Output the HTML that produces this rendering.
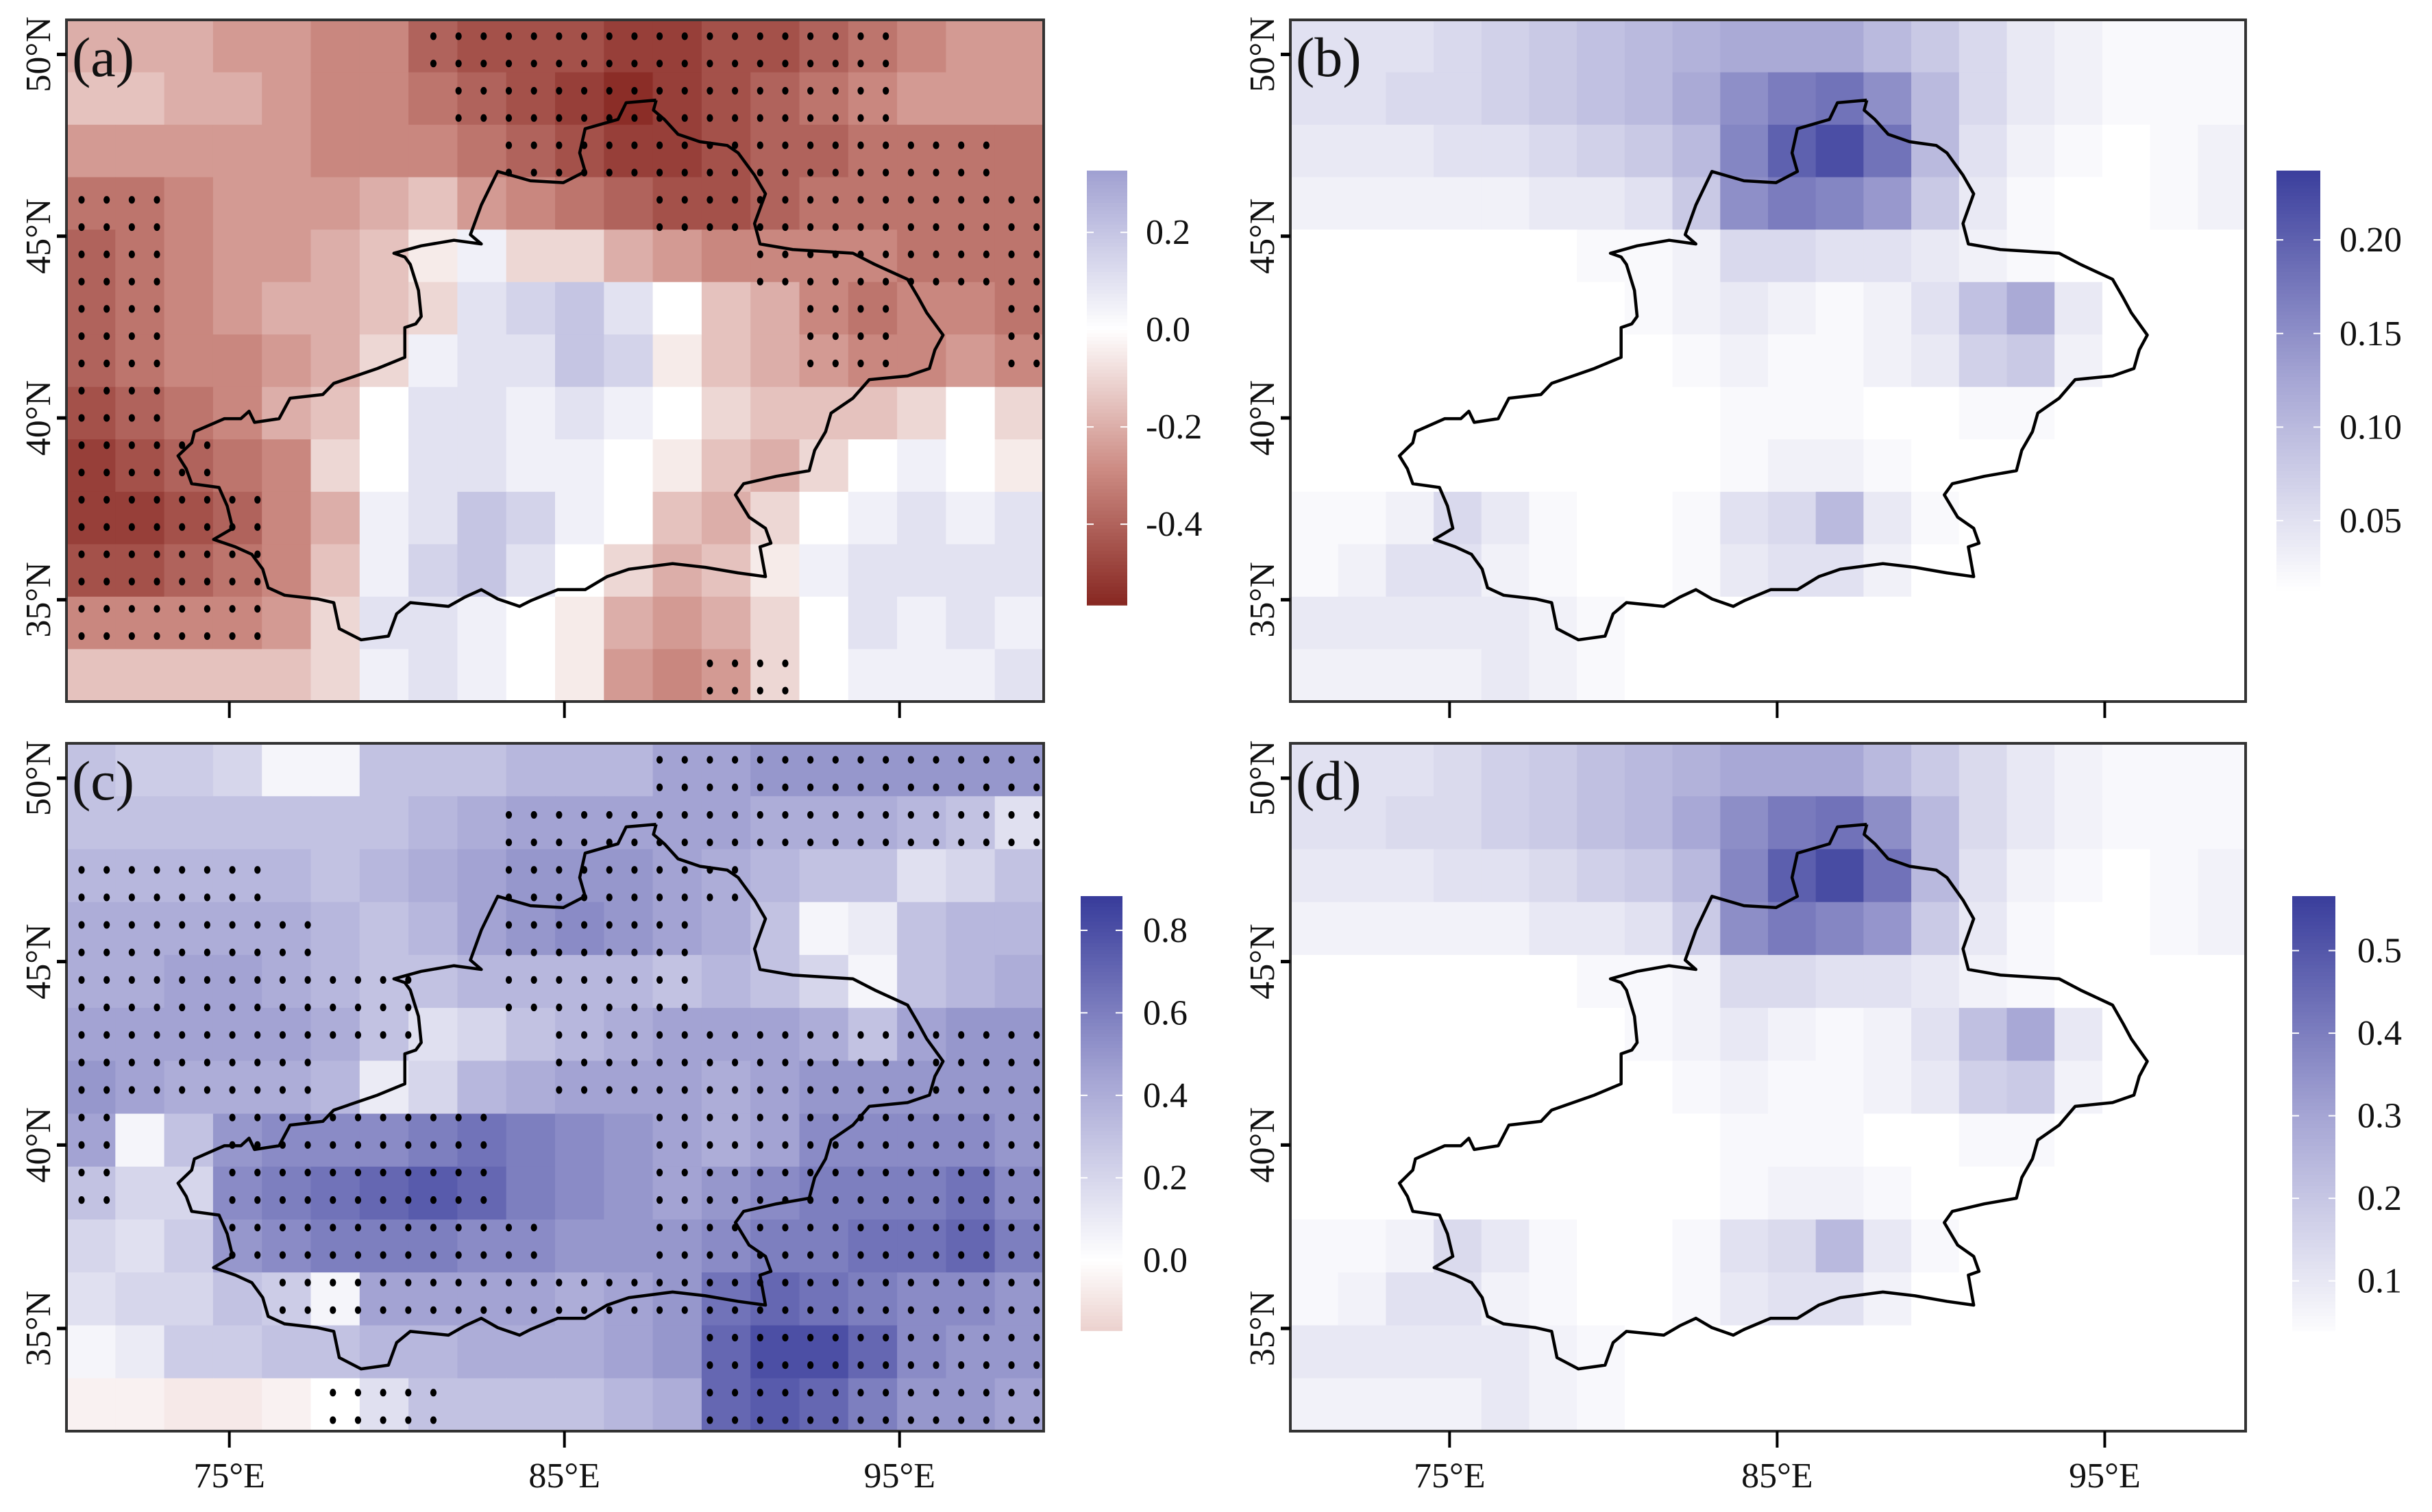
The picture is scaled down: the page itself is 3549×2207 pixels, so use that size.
<!DOCTYPE html>
<html><head><meta charset="utf-8">
<style>
html,body{margin:0;padding:0;background:#fff;}
svg{display:block;font-family:"Liberation Serif",serif;}
</style></head>
<body>
<svg id="fig" width="3549" height="2207" viewBox="0 0 3549 2207" xmlns="http://www.w3.org/2000/svg"></svg>
<script>
// ---------- data ----------
const LON0 = 70.14, LON1 = 99.3, LAT0 = 32.2, LAT1 = 50.95;
const lonTicks = [75, 85, 95];
const lonTickLabels = ["75°E", "85°E", "95°E"];
const latTicks = [35, 40, 45, 50];
const latTickLabels = ["35°N", "40°N", "45°N", "50°N"];

const gridA = [
[-0.2,-0.2,-0.2,-0.25,-0.25,-0.3,-0.3,-0.4,-0.45,-0.45,-0.45,-0.5,-0.5,-0.45,-0.45,-0.4,-0.35,-0.3,-0.25,-0.25],
[-0.15,-0.15,-0.2,-0.2,-0.25,-0.3,-0.3,-0.35,-0.4,-0.45,-0.5,-0.55,-0.5,-0.45,-0.4,-0.35,-0.3,-0.25,-0.25,-0.25],
[-0.25,-0.25,-0.25,-0.25,-0.25,-0.3,-0.3,-0.3,-0.35,-0.4,-0.45,-0.5,-0.5,-0.45,-0.4,-0.4,-0.35,-0.35,-0.35,-0.35],
[-0.35,-0.35,-0.3,-0.25,-0.25,-0.25,-0.2,-0.15,-0.25,-0.3,-0.35,-0.4,-0.45,-0.45,-0.4,-0.35,-0.35,-0.35,-0.35,-0.35],
[-0.4,-0.35,-0.3,-0.25,-0.25,-0.2,-0.15,-0.05,0.05,-0.1,-0.1,-0.2,-0.25,-0.3,-0.3,-0.3,-0.3,-0.35,-0.35,-0.35],
[-0.4,-0.35,-0.3,-0.25,-0.2,-0.2,-0.15,-0.1,0.1,0.15,0.2,0.1,0.0,-0.15,-0.2,-0.3,-0.35,-0.3,-0.3,-0.35],
[-0.4,-0.35,-0.3,-0.3,-0.25,-0.2,-0.1,0.05,0.1,0.1,0.2,0.15,-0.05,-0.15,-0.2,-0.25,-0.3,-0.3,-0.25,-0.3],
[-0.45,-0.4,-0.35,-0.3,-0.2,-0.15,0.0,0.1,0.1,0.05,0.1,0.05,0.0,-0.1,-0.15,-0.15,-0.15,-0.1,0.0,-0.1],
[-0.5,-0.45,-0.4,-0.35,-0.3,-0.1,0.0,0.1,0.1,0.05,0.05,0.0,-0.05,-0.15,-0.2,-0.1,0.0,0.05,0.0,-0.05],
[-0.5,-0.5,-0.45,-0.4,-0.3,-0.2,0.05,0.1,0.2,0.15,0.05,0.0,-0.15,-0.2,-0.1,0.0,0.05,0.1,0.05,0.1],
[-0.45,-0.45,-0.4,-0.35,-0.3,-0.15,0.05,0.15,0.2,0.1,0.0,-0.1,-0.2,-0.15,-0.05,0.05,0.1,0.1,0.1,0.1],
[-0.3,-0.3,-0.3,-0.3,-0.25,-0.1,0.1,0.1,0.05,0.0,-0.05,-0.2,-0.25,-0.2,-0.1,0.0,0.1,0.05,0.1,0.05],
[-0.15,-0.15,-0.15,-0.15,-0.15,-0.1,0.05,0.1,0.05,0.0,-0.05,-0.25,-0.3,-0.25,-0.1,0.0,0.05,0.05,0.05,0.1]
];
const dotsA = [
"00000001111111111000","00000000111111111000","00000000011111111110",
"11000000000011111111","11000000000000111111","11000000000000011001",
"11000000000000011001","11000000000000000000","11100000000000000000",
"11110000000000000000","11110000000000000000","11110000000000000000",
"00000000000001100000"];

const gridB = [
[0.05,0.05,0.05,0.06,0.07,0.08,0.09,0.1,0.11,0.12,0.12,0.12,0.1,0.08,0.06,0.04,0.03,0.02,0.02,0.02],
[0.05,0.05,0.06,0.06,0.07,0.08,0.09,0.1,0.12,0.15,0.17,0.18,0.15,0.1,0.06,0.04,0.03,0.02,0.02,0.02],
[0.04,0.04,0.04,0.05,0.05,0.06,0.07,0.08,0.1,0.16,0.2,0.22,0.18,0.1,0.05,0.03,0.02,0.01,0.02,0.03],
[0.03,0.03,0.03,0.03,0.03,0.04,0.04,0.05,0.08,0.15,0.17,0.16,0.14,0.08,0.04,0.02,0.01,0.01,0.02,0.03],
[0.01,0.01,0.01,0.01,0.01,0.01,0.02,0.02,0.03,0.06,0.06,0.05,0.05,0.04,0.03,0.02,0.01,0.01,0.01,0.01],
[0.01,0.01,0.01,0.01,0.01,0.01,0.01,0.02,0.03,0.04,0.03,0.02,0.03,0.05,0.09,0.12,0.04,0.01,0.01,0.01],
[0.01,0.01,0.01,0.01,0.01,0.01,0.01,0.01,0.02,0.03,0.02,0.02,0.03,0.04,0.07,0.08,0.03,0.01,0.01,0.01],
[0.01,0.01,0.01,0.01,0.01,0.01,0.0,0.0,0.01,0.02,0.02,0.02,0.01,0.01,0.02,0.02,0.01,0.01,0.01,0.01],
[0.01,0.01,0.01,0.01,0.01,0.01,0.0,0.0,0.01,0.02,0.03,0.03,0.02,0.01,0.01,0.01,0.01,0.01,0.01,0.01],
[0.02,0.02,0.03,0.06,0.04,0.02,0.01,0.01,0.02,0.05,0.06,0.1,0.04,0.02,0.01,0.01,0.01,0.01,0.01,0.01],
[0.02,0.03,0.05,0.05,0.03,0.02,0.01,0.01,0.02,0.04,0.05,0.05,0.03,0.01,0.01,0.01,0.01,0.01,0.01,0.01],
[0.04,0.04,0.04,0.04,0.04,0.03,0.02,0.01,0.01,0.01,0.01,0.01,0.01,0.01,0.01,0.01,0.01,0.01,0.01,0.01],
[0.03,0.03,0.03,0.03,0.04,0.03,0.02,0.01,0.01,0.01,0.01,0.01,0.01,0.01,0.01,0.01,0.01,0.01,0.01,0.01]
];

const gridC = [
[0.3,0.25,0.25,0.2,0.05,0.05,0.3,0.3,0.3,0.35,0.35,0.35,0.45,0.45,0.5,0.5,0.5,0.5,0.5,0.5],
[0.3,0.3,0.3,0.3,0.3,0.3,0.3,0.35,0.4,0.45,0.45,0.45,0.45,0.45,0.4,0.4,0.4,0.35,0.3,0.15],
[0.35,0.35,0.35,0.35,0.35,0.3,0.35,0.4,0.45,0.5,0.5,0.5,0.45,0.4,0.35,0.3,0.3,0.15,0.2,0.3],
[0.4,0.4,0.4,0.4,0.4,0.35,0.3,0.35,0.45,0.5,0.55,0.5,0.45,0.4,0.3,0.05,0.1,0.3,0.35,0.35],
[0.4,0.4,0.45,0.45,0.4,0.35,0.3,0.3,0.35,0.35,0.35,0.35,0.3,0.35,0.3,0.2,0.05,0.3,0.35,0.4],
[0.45,0.45,0.45,0.45,0.45,0.4,0.3,0.15,0.2,0.3,0.35,0.4,0.45,0.45,0.45,0.4,0.3,0.45,0.5,0.5],
[0.5,0.45,0.4,0.4,0.4,0.35,0.1,0.2,0.35,0.4,0.45,0.45,0.45,0.4,0.45,0.5,0.5,0.5,0.5,0.5],
[0.45,0.05,0.3,0.5,0.55,0.55,0.55,0.6,0.65,0.6,0.55,0.5,0.45,0.4,0.45,0.55,0.55,0.55,0.55,0.5],
[0.3,0.2,0.2,0.55,0.6,0.65,0.7,0.75,0.7,0.6,0.55,0.5,0.45,0.5,0.55,0.6,0.6,0.6,0.65,0.55],
[0.2,0.15,0.25,0.5,0.55,0.6,0.6,0.6,0.55,0.55,0.5,0.5,0.5,0.55,0.6,0.6,0.65,0.65,0.7,0.6],
[0.15,0.2,0.2,0.3,0.25,0.05,0.45,0.45,0.45,0.45,0.4,0.45,0.5,0.65,0.7,0.65,0.6,0.55,0.55,0.5],
[0.05,0.1,0.25,0.25,0.3,0.3,0.35,0.35,0.4,0.4,0.4,0.45,0.5,0.7,0.8,0.8,0.7,0.55,0.5,0.5],
[-0.05,-0.05,-0.08,-0.08,-0.05,0.0,0.15,0.3,0.3,0.3,0.3,0.35,0.4,0.7,0.75,0.7,0.6,0.5,0.5,0.45]
];
const dotsC = [
"00000000000011111111","00000000011111111111","11110000011111000000",
"11111000011110000000","11111110011110000000","11111110001111111111",
"11111000001111111111","10011111100011111111","10011111100011111111",
"00011111110011111111","00001111111111111111","00000000000001111111",
"00000111000001111111"];

const gridD = [
[0.12,0.12,0.12,0.14,0.17,0.19,0.22,0.24,0.26,0.29,0.29,0.29,0.24,0.19,0.14,0.1,0.07,0.05,0.05,0.05],
[0.12,0.12,0.14,0.14,0.17,0.19,0.22,0.24,0.29,0.36,0.41,0.43,0.36,0.24,0.14,0.1,0.07,0.05,0.05,0.05],
[0.1,0.1,0.1,0.12,0.12,0.14,0.17,0.19,0.24,0.38,0.48,0.53,0.43,0.24,0.12,0.07,0.05,0.02,0.05,0.07],
[0.07,0.07,0.07,0.07,0.07,0.1,0.1,0.12,0.19,0.36,0.41,0.38,0.34,0.19,0.1,0.05,0.02,0.02,0.05,0.07],
[0.02,0.02,0.02,0.02,0.02,0.02,0.05,0.05,0.07,0.14,0.14,0.12,0.12,0.1,0.07,0.05,0.02,0.02,0.02,0.02],
[0.02,0.02,0.02,0.02,0.02,0.02,0.02,0.05,0.07,0.1,0.07,0.05,0.07,0.12,0.22,0.29,0.1,0.02,0.02,0.02],
[0.02,0.02,0.02,0.02,0.02,0.02,0.02,0.02,0.05,0.07,0.05,0.05,0.07,0.1,0.17,0.19,0.07,0.02,0.02,0.02],
[0.02,0.02,0.02,0.02,0.02,0.02,0.0,0.0,0.02,0.05,0.05,0.05,0.02,0.02,0.05,0.05,0.02,0.02,0.02,0.02],
[0.02,0.02,0.02,0.02,0.02,0.02,0.0,0.0,0.02,0.05,0.07,0.07,0.05,0.02,0.02,0.02,0.02,0.02,0.02,0.02],
[0.05,0.05,0.07,0.14,0.1,0.05,0.02,0.02,0.05,0.12,0.14,0.24,0.1,0.05,0.02,0.02,0.02,0.02,0.02,0.02],
[0.05,0.07,0.12,0.12,0.07,0.05,0.02,0.02,0.05,0.1,0.12,0.12,0.07,0.02,0.02,0.02,0.02,0.02,0.02,0.02],
[0.1,0.1,0.1,0.1,0.1,0.07,0.05,0.02,0.02,0.02,0.02,0.02,0.02,0.02,0.02,0.02,0.02,0.02,0.02,0.02],
[0.07,0.07,0.07,0.07,0.1,0.07,0.05,0.02,0.02,0.02,0.02,0.02,0.02,0.02,0.02,0.02,0.02,0.02,0.02,0.02]
];

const cbTicksA = [0.2, 0.0, -0.2, -0.4], cbLabelsA = ["0.2","0.0","-0.2","-0.4"];
const cbTicksB = [0.20, 0.15, 0.10, 0.05], cbLabelsB = ["0.20","0.15","0.10","0.05"];
const cbTicksC = [0.8, 0.6, 0.4, 0.2, 0.0], cbLabelsC = ["0.8","0.6","0.4","0.2","0.0"];
const cbTicksD = [0.5, 0.4, 0.3, 0.2, 0.1], cbLabelsD = ["0.5","0.4","0.3","0.2","0.1"];

// Xinjiang outline (panel-a zoom pixel coords)
const outlineRaw = [[950,48],[945,75],[965,100],[990,140],[1030,160],[1080,170],[1100,190],[1130,250],[1150,300],[1130,380],[1140,435],[1200,450],[1310,460],[1350,490],[1410,530],[1430,580],[1445,620],[1475,680],[1460,720],[1450,770],[1410,790],[1340,800],[1310,850],[1270,890],[1260,940],[1240,990],[1230,1045],[1170,1060],[1110,1080],[1095,1110],[1120,1170],[1150,1200],[1160,1240],[1140,1250],[1150,1330],[1100,1320],[1040,1305],[980,1295],[900,1310],[860,1330],[820,1365],[770,1365],[720,1395],[700,1410],[660,1390],[630,1365],[600,1385],[570,1410],[500,1400],[475,1430],[460,1490],[410,1500],[370,1470],[360,1400],[330,1390],[270,1380],[240,1360],[230,1310],[210,1270],[180,1250],[140,1230],[175,1200],[165,1140],[150,1090],[100,1080],[90,1040],[75,1005],[100,970],[105,940],[160,905],[190,905],[205,885],[215,915],[260,905],[280,850],[340,840],[360,810],[440,770],[490,740],[490,660],[510,650],[520,630],[515,560],[500,490],[490,470],[470,460],[520,440],[580,425],[630,435],[610,410],[630,330],[660,240],[720,265],[780,270],[820,240],[810,190],[820,125],[880,100],[895,55],[950,48]];
const outline = outlineRaw.map(p => {
  const fx = 200 + p[0]/1.254, fy = 120 + p[1]/1.845;
  return [LON0 + (fx-97)/(1426/(LON1-LON0)), LAT1 - (fy-29)/(994/(LAT1-LAT0))];
});

// ---------- colormaps ----------
function lerp(a,b,t){return [0,1,2].map(i=>Math.round(a[i]+(b[i]-a[i])*t));}
const W=[255,255,255], BM=[165,165,212], BD=[56,60,155], RM=[205,140,132], RD=[134,38,32];
function blue(t){t=Math.max(0,Math.min(1,t));return t<0.5?lerp(W,BM,t/0.5):lerp(BM,BD,(t-0.5)/0.5);}
function red(t){t=Math.max(0,Math.min(1,t));return t<0.5?lerp(W,RM,t/0.5):lerp(RM,RD,(t-0.5)/0.5);}
function rgb(c){return `rgb(${c[0]},${c[1]},${c[2]})`;}
function divMap(pos,neg){return v=> v>=0? rgb(blue(v/pos)) : rgb(red(-v/neg));}
function seqMap(lo,hi){return v=> rgb(blue((v-lo)/(hi-lo)));}

const svg=document.getElementById('fig');
const NS='http://www.w3.org/2000/svg';
function el(tag,attrs,parent){const e=document.createElementNS(NS,tag);for(const k in attrs)e.setAttribute(k,attrs[k]);(parent||svg).appendChild(e);return e;}

function panel(p){
  const g=el('g',{});
  
  
  const xs=lon=>p.x0+(lon-LON0)/(LON1-LON0)*(p.x1-p.x0);
  const ys=lat=>p.y0+(LAT1-lat)/(LAT1-LAT0)*(p.y1-p.y0);
  const rows=p.grid.length, cols=p.grid[0].length;
  const dlon=(LON1-LON0)/cols, dlat=(LAT1-LAT0)/rows;
  const hg=el('g',{},g);
  
  
  for(let r=0;r<rows;r++)for(let c=0;c<cols;c++){
    const xa=xs(LON0+c*dlon), xb=xs(LON0+(c+1)*dlon), ya=ys(LAT1-r*dlat), yb=ys(LAT1-(r+1)*dlat);
    const cell=el('rect',{x:xa,y:ya,width:xb-xa+0.8,height:yb-ya+0.8,fill:p.cmap(p.grid[r][c])},hg);
    
    
  }
  if(p.dots){
    const dg=el('g',{fill:'#000'},g);
    
    
    for(let lon=LON0+0.45;lon<LON1;lon+=0.75)for(let lat=LAT1-0.45;lat>LAT0;lat-=0.75){
      const c=Math.floor((lon-LON0)/dlon), r=Math.floor((LAT1-lat)/dlat);
      if(p.dots[r] && p.dots[r][c]==='1'){
        const d=el('ellipse',{cx:xs(lon),cy:ys(lat),rx:4.6,ry:5.6},dg);
        
        
      }
    }
  }
  const ol=el('polyline',{points:outline.map(q=>xs(q[0])+','+ys(q[1])).join(' '),fill:'none',stroke:'#000','stroke-width':4.5,'stroke-linejoin':'round'},g);
  
  
  const fr=el('rect',{x:p.x0,y:p.y0,width:p.x1-p.x0,height:p.y1-p.y0,fill:'none',stroke:'#333','stroke-width':4},g);
  
  
  lonTicks.forEach((lon,i)=>{
    const tk=el('line',{x1:xs(lon),x2:xs(lon),y1:p.y1,y2:p.y1+24,stroke:'#000','stroke-width':4},g);
    
    
    if(p.xlabels){
      const t=el('text',{x:xs(lon),y:p.y1+82,'font-size':52,'text-anchor':'middle',fill:'#111'},g);
      t.textContent=lonTickLabels[i];
      
      
    }
  });
  latTicks.forEach((lat,i)=>{
    const y=ys(lat);
    const tk=el('line',{x1:p.x0-14,x2:p.x0,y1:y,y2:y,stroke:'#000','stroke-width':5},g);
    
    
    const t=el('text',{x:0,y:0,'font-size':52,'text-anchor':'middle',fill:'#111',transform:`translate(${p.x0-24},${y}) rotate(-90)`},g);
    t.textContent=latTickLabels[i];
    
    
  });
  const lab=el('text',{x:p.x0+8,y:p.y0+82,'font-size':82,fill:'#111'},g);
  lab.textContent='('+p.id+')';
  
  
  const cb=el('g',{},g);
  
  
  const n=120, cbH=p.cb.y1-p.cb.y0;
  for(let i=0;i<n;i++){
    const v=p.cb.vmax-(i+0.5)/n*(p.cb.vmax-p.cb.vmin);
    el('rect',{x:p.cb.x0,y:p.cb.y0+i*cbH/n,width:p.cb.x1-p.cb.x0,height:cbH/n+0.8,fill:p.cmap(v)},cb);
  }
  const cy=v=>p.cb.y0+(p.cb.vmax-v)/(p.cb.vmax-p.cb.vmin)*cbH;
  p.cb.ticks.forEach((v,i)=>{
    el('line',{x1:p.cb.x0,x2:p.cb.x0+10,y1:cy(v),y2:cy(v),stroke:'#fff','stroke-width':2},cb);
    el('line',{x1:p.cb.x1-10,x2:p.cb.x1,y1:cy(v),y2:cy(v),stroke:'#fff','stroke-width':2},cb);
    const t=el('text',{x:p.cb.lx,y:cy(v)+17,'font-size':52,fill:'#111'},cb);
    t.textContent=p.cb.labels[i];
    
    
  });
}

panel({id:'a',x0:97,x1:1523,y0:29,y1:1024,grid:gridA,dots:dotsA,cmap:divMap(0.62,0.57),xlabels:false,
  cb:{x0:1586,x1:1645,y0:249,y1:883,vmax:0.327,vmin:-0.566,ticks:cbTicksA,labels:cbLabelsA,lx:1672}});
panel({id:'b',x0:1883,x1:3277,y0:29,y1:1024,grid:gridB,dots:null,cmap:seqMap(0.012,0.24),xlabels:false,
  cb:{x0:3322,x1:3386,y0:249,y1:883,vmax:0.237,vmin:0.005,ticks:cbTicksB,labels:cbLabelsB,lx:3414}});
panel({id:'c',x0:97,x1:1523,y0:1085,y1:2089,grid:gridC,dots:dotsC,cmap:divMap(0.88,0.85),xlabels:true,
  cb:{x0:1577,x1:1638,y0:1308,y1:1942,vmax:0.883,vmin:-0.17,ticks:cbTicksC,labels:cbLabelsC,lx:1668}});
panel({id:'d',x0:1883,x1:3277,y0:1085,y1:2089,grid:gridD,dots:null,cmap:seqMap(0.03,0.57),xlabels:true,
  cb:{x0:3345,x1:3408,y0:1308,y1:1942,vmax:0.566,vmin:0.04,ticks:cbTicksD,labels:cbLabelsD,lx:3440}});
</script>
</body></html>
